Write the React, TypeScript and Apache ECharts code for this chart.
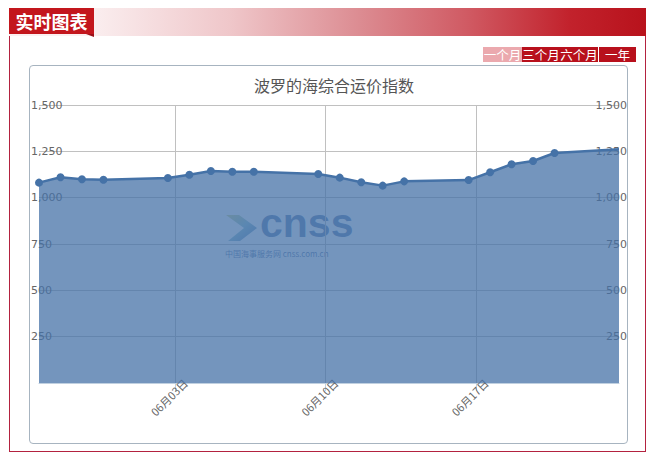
import React, { useEffect, useRef } from "react";
import * as echarts from "echarts";

const headerLabel = "实时图表";
const rangeButtons = ["一个月", "三个月", "六个月", "一年"];
const chartTitle = "波罗的海综合运价指数";
const watermarkMain = "cnss";
const watermarkSub = "中国海事服务网 cnss.com.cn";

// trading days (Beijing-time midnight timestamps, as in the source chart)
const dates = [
  "2019-05-28", "2019-05-29", "2019-05-30", "2019-05-31",
  "2019-06-03", "2019-06-04", "2019-06-05", "2019-06-06", "2019-06-07",
  "2019-06-10", "2019-06-11", "2019-06-12", "2019-06-13", "2019-06-14",
  "2019-06-17", "2019-06-18", "2019-06-19", "2019-06-20", "2019-06-21",
  "2019-06-24",
];
const values = [
  1081, 1110, 1099, 1097,
  1106, 1124, 1144, 1140, 1140,
  1128, 1108, 1083, 1065, 1088,
  1095, 1137, 1180, 1198, 1241,
  1261,
];
const xTickDates = ["2019-06-03", "2019-06-10", "2019-06-17"];
const yMin = 0;
const yMax = 1500;
const yInterval = 250;

const toTs = (d: string) => Date.parse(d + "T00:00:00+08:00");
const toUtcTs = (d: string) => Date.parse(d + "T00:00:00Z");
const pad = (n: number) => (n < 10 ? "0" + n : "" + n);
const fmtDate = (v: number) => {
  const dt = new Date(v);
  return pad(dt.getUTCMonth() + 1) + "月" + pad(dt.getUTCDate()) + "日";
};
const fmtNum = (v: number) => String(v).replace(/\B(?=(\d{3})+(?!\d))/g, ",");

export default function App() {
  const ref = useRef<HTMLDivElement>(null);

  useEffect(() => {
    if (!ref.current) return;
    const chart = echarts.init(ref.current, undefined, { renderer: "svg" });
    const tsList = dates.map(toTs);
    const ticks = xTickDates.map(toUtcTs);
    const seriesData = tsList.map((t, i) =>
      i === tsList.length - 1
        ? { value: [t, values[i]], symbol: "none" }
        : { value: [t, values[i]] }
    );
    const labelFont = "DejaVu Sans";
    chart.setOption({
      animation: false,
      title: {
        text: chartTitle,
        left: 329,
        top: 72,
        textAlign: "center",
        textStyle: {
          fontFamily: "Noto Sans CJK SC",
          fontSize: 16,
          fontWeight: "normal",
          color: "#555",
        },
      },
      grid: {
        left: 39,
        top: 105,
        width: 580,
        height: 278,
        containLabel: false,
        outerBoundsMode: "none",
      },
      xAxis: {
        type: "value",
        scale: true,
        min: tsList[0],
        max: tsList[tsList.length - 1],
        axisLine: { show: true, onZero: false, lineStyle: { color: "#C0D0E0", width: 1 } },
        axisTick: {
          show: true,
          customValues: ticks,
          length: 8,
          lineStyle: { color: "#C0D0E0" },
        },
        axisLabel: {
          customValues: ticks,
          rotate: 45,
          margin: 8,
          padding: [21, -14.5, 0, 0],
          formatter: (v: number) => fmtDate(v),
          color: "#666",
          fontSize: 11,
          fontFamily: "Noto Sans CJK SC",
        },
        splitLine: { show: true, lineStyle: { color: "#C0C0C0", width: 1 } },
      },
      yAxis: [
        {
          type: "value",
          position: "left",
          min: yMin,
          max: yMax,
          interval: yInterval,
          axisLine: { show: false },
          axisTick: { show: false },
          splitLine: { show: true, lineStyle: { color: "#C0C0C0", width: 1 } },
          axisLabel: {
            inside: true,
            margin: -8,
            showMinLabel: false,
            formatter: (v: number) => fmtNum(v),
            color: "#666",
            fontSize: 11,
            fontFamily: labelFont,
          },
        },
        {
          type: "value",
          position: "right",
          min: yMin,
          max: yMax,
          interval: yInterval,
          axisLine: { show: false },
          axisTick: { show: false },
          splitLine: { show: false },
          axisLabel: {
            inside: true,
            margin: -8,
            showMinLabel: false,
            formatter: (v: number) => fmtNum(v),
            color: "#666",
            fontSize: 11,
            fontFamily: labelFont,
          },
        },
      ],
      series: [
        {
          type: "line",
          xAxisIndex: 0,
          yAxisIndex: 0,
          data: seriesData,
          symbol: "circle",
          symbolSize: 8,
          showSymbol: true,
          showAllSymbol: true,
          clip: true,
          lineStyle: { color: "#4572A7", width: 2.5 },
          itemStyle: { color: "#4572A7" },
          areaStyle: { color: "#4572A7", opacity: 0.75 },
          emphasis: { disabled: true },
        },
      ],
      graphic: [
        {
          type: "group",
          z: 100,
          silent: true,
          children: [
            {
              type: "polygon",
              shape: {
                points: [
                  [226, 215],
                  [239, 215],
                  [257, 228],
                  [240, 241],
                  [228, 241],
                  [244, 228],
                ],
              },
              style: {
                fill: new echarts.graphic.LinearGradient(0, 0, 1, 1, [
                  { offset: 0, color: "rgba(205,205,110,0.75)" },
                  { offset: 0.5, color: "rgba(120,180,195,0.75)" },
                  { offset: 1, color: "rgba(75,115,180,0.85)" },
                ]),
              },
            },
            {
              type: "text",
              x: 260,
              y: 222.5,
              style: {
                text: watermarkMain,
                font: "bold 41px 'Liberation Sans'",
                lineHeight: 26,
                fill: "rgba(60,100,160,0.75)",
                verticalAlign: "middle",
                align: "left",
              },
            },
            {
              type: "text",
              x: 225,
              y: 253,
              style: {
                text: watermarkSub,
                font: "8px 'Noto Sans CJK SC'",
                lineHeight: 8,
                fill: "rgba(70,105,160,0.8)",
                verticalAlign: "middle",
                align: "left",
              },
            },
          ],
        },
      ],
    });
    return () => chart.dispose();
  }, []);

  const btnBase: React.CSSProperties = {
    position: "absolute",
    top: 47,
    height: 15,
    lineHeight: "15px",
    fontSize: 12.5,
    color: "#fff",
    textAlign: "center",
    fontFamily: "'Noto Sans CJK SC'",
  };
  const btnLayout = [
    { left: 483, width: 39, bg: "#eba9ae" },
    { left: 522, width: 38, bg: "#b8101c" },
    { left: 560, width: 38, bg: "#b8101c" },
    { left: 599, width: 37, bg: "#b8101c" },
  ];

  return (
    <div
      style={{
        position: "absolute",
        left: 0,
        top: 0,
        width: 655,
        height: 457,
        background: "#fff",
        overflow: "hidden",
        fontFamily: "'Noto Sans CJK SC', sans-serif",
      }}
    >
      {/* outer red frame */}
      <div
        style={{
          position: "absolute",
          left: 9,
          top: 35,
          width: 637,
          height: 417,
          boxSizing: "border-box",
          borderLeft: "1px solid #b3223f",
          borderRight: "1px solid #b3223f",
          borderBottom: "1px solid #b3223f",
        }}
      />
      {/* header gradient bar */}
      <div
        style={{
          position: "absolute",
          left: 9,
          top: 8,
          width: 637,
          height: 28,
          background:
            "linear-gradient(to right, #fbf0f1 12%, #efc6c9 35%, #dc8c92 55%, #d05a63 72%, #c2222c 88%, #b8121c 100%)",
        }}
      />
      {/* header label */}
      <div
        style={{
          position: "absolute",
          left: 9,
          top: 8,
          width: 85,
          height: 26,
          background: "#c3161d",
          color: "#fff",
          fontWeight: "bold",
          fontSize: 18,
          lineHeight: "27px",
          textAlign: "center",
          letterSpacing: 0,
        }}
      >
        {headerLabel}
      </div>
      <div
        style={{
          position: "absolute",
          left: 86,
          top: 34,
          width: 0,
          height: 0,
          borderLeft: "8px solid transparent",
          borderTop: "3px solid #9a1018",
        }}
      />
      {/* range buttons */}
      {rangeButtons.map((t, i) => (
        <div
          key={t}
          style={{
            ...btnBase,
            left: btnLayout[i].left,
            width: btnLayout[i].width,
            background: btnLayout[i].bg,
          }}
        >
          {t}
        </div>
      ))}
      {/* chart panel */}
      <div
        style={{
          position: "absolute",
          left: 29,
          top: 65,
          width: 599,
          height: 379,
          boxSizing: "border-box",
          border: "1px solid #a7b4c0",
          borderRadius: 4,
        }}
      />
      <div
        ref={ref}
        style={{ position: "absolute", left: 0, top: 0, width: 655, height: 457 }}
      />
    </div>
  );
}
